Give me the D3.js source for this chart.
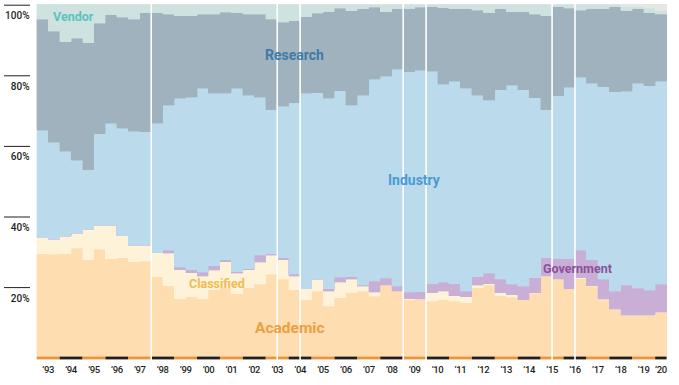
<!DOCTYPE html>
<html>
<head>
<meta charset="utf-8">
<script src="https://cdn.jsdelivr.net/npm/d3@7"></script>
<style>
  html, body { margin: 0; padding: 0; background: #ffffff; }
  svg { display: block; }
  text { font-family: Roboto, "Noto Sans", sans-serif; }
</style>
</head>
<body>
<svg id="chart" width="679" height="385"></svg>
<script>
// ---- DATA (share of TOP500 systems by segment, % ; one value per list, June 1993 .. June 2020) ----
const years = [1993,1994,1995,1996,1997,1998,1999,2000,2001,2002,2003,2004,2005,2006,2007,2008,2009,2010,2011,2012,2013,2014,2015,2016,2017,2018,2019,2020];
const yearLabels = ["’93","’94","’95","’96","’97","’98","’99","’00","’01","’02","’03","’04","’05","’06","’07","’08","’09","’10","’11","’12","’13","’14","’15","’16","’17","’18","’19","’20"];

const academic = [29.4,29.2,29.4,30.9,27.7,30.6,28.0,28.3,27.1,27.3, 22.9,20.3,16.6,17.2,16.6,19.2,19.7,18.1,19.7,20.7, 23.5,22.1,19.2,16.4,18.8,14.5,16.9,18.3,18.8,17.3, 20.4,18.7,16.4,16.3,15.9,16.4,15.9,15.5,19.7,20.5, 17.5,17.0,16.4,18.2,23.0,22.1,19.4,22.3,20.2,16.2, 13.6,11.9,11.9,11.9,12.8];
const classified = [4.5,4.2,4.9,4.3,8.6,6.9,9.5,6.1,4.6,4.4, 6.7,9.2,8.3,6.8,6.4,5.5,7.4,5.7,5.2,6.3, 5.4,5.6,3.8,3.1,3.3,4.3,4.4,3.8,1.4,1.2, 0,0,0.2,0.2,2.4,2.4,1.6,1.7,0.7,0.4, 0.8,0.8,0,0.1,0,0,0,0.2,0.1,0.3, 0,0,0,0,0];
const government = [0,0,0,0,0,0,0,0,0,0, 0,0.8,0.6,0.9,1.1,1.3,0.5,0.5,0.2,1.9, 0.5,0.5,0.6,0,0,0.7,1.4,0.7,0.2,3.1, 2.0,1.5,1.9,2.1,2.6,2.5,3.4,1.6,2.4,2.9, 3.8,2.9,3.8,4.3,5.2,5.8,8.5,7.9,7.4,5.6, 5.2,8.5,7.7,7.1,7.9];
const industry = [30.4,27.6,24.1,20.7,16.8,25.8,28.8,30.5,32.4,32.2, 36.7,41.1,47.9,48.8,52.2,48.8,47.2,52.0,49.2,44.8, 40.7,42.9,48.6,55.3,52.9,53.9,52.8,48.6,53.9,57.2, 57.2,61.4,62.4,62.8,60.2,56.1,57.4,57.4,51.5,49.1, 53.7,56.4,55.6,50.9,41.9,46.2,48.6,49.0,50.0,54.6, 56.4,55.0,58.1,57.9,57.6];
const research = [31.5,31.4,31.0,34.5,36.0,31.4,30.7,31.4,31.7,33.8, 31.4,25.8,23.4,23.1,20.9,22.4,23.0,21.4,22.9,23.5, 25.7,23.8,23.1,21.7,22.5,24.5,23.4,26.8,24.4,20.4, 18.3,17.1,17.8,17.8,18.3,21.7,20.4,22.5,24.0,24.8, 22.9,20.8,22.1,23.7,26.7,25.3,22.4,19.0,21.0,22.0, 24.2,22.8,21.0,20.8,18.9];
const vendor = [4.2,7.6,10.6,9.6,10.9,5.3,3.0,3.7,4.2,2.3, 2.3,2.8,3.2,3.2,2.8,2.8,2.2,2.3,2.8,2.8, 4.2,5.1,4.7,3.5,2.5,2.1,1.1,1.8,1.3,0.8, 2.1,1.3,1.3,0.8,0.6,0.9,1.3,1.3,1.7,2.3, 1.3,2.1,2.1,2.8,3.2,0.6,1.1,1.6,1.3,1.3, 0.6,1.2,0.7,1.2,1.0];
const others = [0,0,0,0,0,0,0,0,0,0, 0,0,0,0,0,0,0,0,0,0, 0,0,0,0,0,0,0,0,0,0, 0,0,0,0,0,0,0,0,0,0, 0,0,0,0,0,0,0,0,0,0, 0,0.6,0.6,1.1,1.8];

const yTicks = [20, 40, 60, 80, 100];
// list indices where a white separator is drawn
const separators = [10, 21, 23, 32, 34, 45, 47];

const keys = ["Academic","Classified","Government","Industry","Research","Vendor","Others"];
const seriesArrays = [academic, classified, government, industry, research, vendor, others];
const colors = {
  Academic: "#FEDDB1", Classified: "#FEF3D9", Government: "#C9AFD5",
  Industry: "#BBDAEB", Research: "#A0B2BD", Vendor: "#CEE2DF", Others: "#E4E7E3"
};
const labels = [
  {text: "Vendor",     x: 53,  y: 16,  size: 12.5, color: "#5CC3BE"},
  {text: "Research",   x: 265, y: 55,  size: 14,   color: "#3E7BA8"},
  {text: "Industry",   x: 388, y: 180, size: 14,   color: "#4A9AD2"},
  {text: "Government", x: 543, y: 268, size: 12.5, color: "#8C4F9D"},
  {text: "Classified", x: 189, y: 283, size: 12.5, color: "#EFBC52"},
  {text: "Academic",   x: 255, y: 327, size: 15.5, color: "#EBA041"}
];

// ---- BUILD ----
const nLists = academic.length;
const rows = d3.range(nLists).map(i => {
  const r = {i};
  keys.forEach((k, j) => r[k] = seriesArrays[j][i]);
  return r;
});
const rowsStep = rows.concat([Object.assign({}, rows[nLists - 1], {i: nLists})]);

const svg = d3.select("#chart");
const x = d3.scaleLinear().domain([0, nLists]).range([36.7, 666.6]);
const y = d3.scaleLinear().domain([0, 100]).range([357.4, 4.4]);

const stacked = d3.stack().keys(keys)(rowsStep);
const area = d3.area()
  .x(d => x(d.data.i))
  .y0(d => y(d[0]))
  .y1(d => y(d[1]))
  .curve(d3.curveStepAfter);

svg.append("g").selectAll("path").data(stacked).join("path")
  .attr("d", area)
  .attr("fill", d => colors[d.key])
  .attr("stroke", d => colors[d.key])
  .attr("stroke-width", 0.4)
  .attr("shape-rendering", "crispEdges");

// y ticks
const yg = svg.append("g");
yTicks.forEach(t => {
  const yy = y(t) + 0.8;
  yg.append("line").attr("x1", 4).attr("x2", 30).attr("y1", yy).attr("y2", yy)
    .attr("stroke", "#231F20").attr("stroke-width", 1);
  yg.append("text").attr("x", 29.5).attr("y", yy + 14)
    .attr("text-anchor", "end").attr("font-size", 10).attr("font-weight", 500)
    .attr("fill", "#231F20").text(t + "%");
});

// year bars + labels
const xg = svg.append("g");
years.forEach((yr, k) => {
  const s = k * 2, e = Math.min(s + 2, nLists);
  xg.append("rect").attr("x", x(s)).attr("width", x(e) - x(s))
    .attr("y", 356.6).attr("height", 2.8)
    .attr("fill", yr % 2 === 1 ? "#E8953B" : "#231F20");
  xg.append("text").attr("x", x((s + e) / 2)).attr("y", 372.5)
    .attr("text-anchor", "middle").attr("font-size", 9.5).attr("font-weight", 500)
    .attr("letter-spacing", -0.4)
    .attr("fill", "#231F20").text(yearLabels[k]);
});

// white separators
svg.append("g").selectAll("line").data(separators).join("line")
  .attr("x1", d => x(d)).attr("x2", d => x(d))
  .attr("y1", 3).attr("y2", 360)
  .attr("stroke", "#ffffff").attr("stroke-width", 1.6);

// series labels
svg.append("g").selectAll("text").data(labels).join("text")
  .attr("x", d => d.x).attr("y", d => d.y)
  .attr("dy", "0.36em")
  .attr("font-size", d => d.size).attr("font-weight", 700)
  .attr("fill", d => d.color).text(d => d.text);
</script>
</body>
</html>
